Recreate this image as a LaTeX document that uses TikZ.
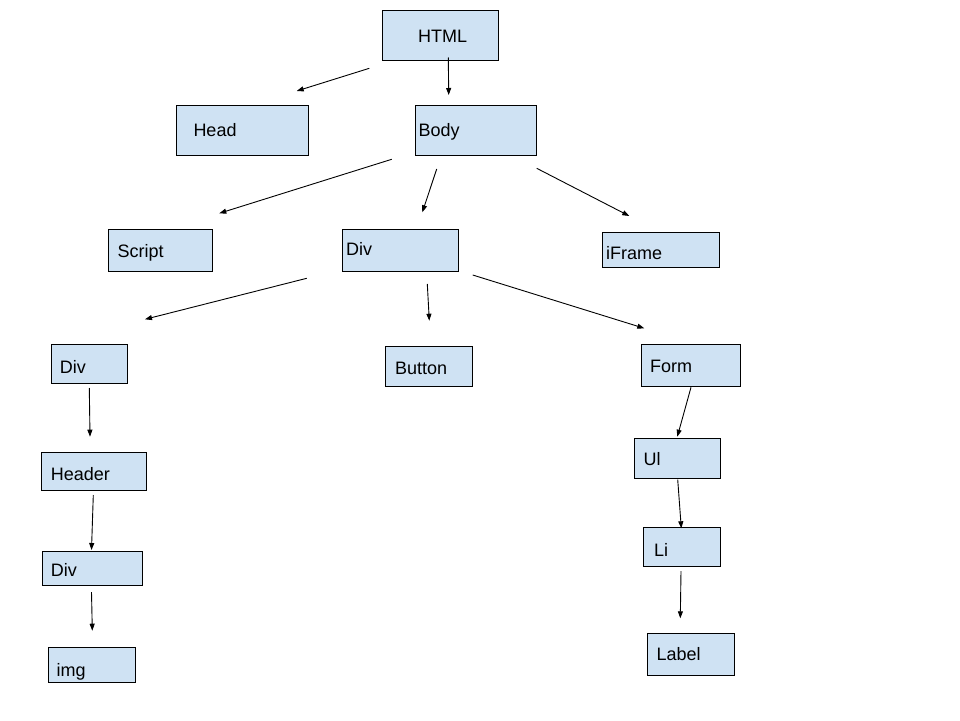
\documentclass[tikz,border=0pt]{standalone}
\usepackage{fontspec}
\setmainfont{Liberation Sans}
\usetikzlibrary{arrows.meta}
\definecolor{boxblue}{HTML}{CFE2F3}
\tikzset{
  box/.style={draw=black, fill=boxblue, line width=1pt, anchor=north west,
    inner sep=0pt, outer sep=0pt},
  txt/.style={anchor=base west, inner sep=0pt, font=\fontsize{18}{22}\selectfont},
  arrow/.style={draw=black, line width=0.9pt, -{Triangle[length=7pt,width=5pt]}}
}
\begin{document}
\begin{tikzpicture}[x=1pt,y=-1pt]
\useasboundingbox[fill=white] (0,0) rectangle (960,720);

% element boxes
\node[box, minimum width=116pt,   minimum height=50pt]   (html)   at (382.5,10.5) {};
\node[box, minimum width=131.6pt, minimum height=50pt]   (head)   at (176.7,105) {};
\node[box, minimum width=121.7pt, minimum height=50pt]   (body)   at (415,105) {};
\node[box, minimum width=104.4pt, minimum height=42.4pt] (script) at (108.3,229.3) {};
\node[box, minimum width=116pt,   minimum height=42.4pt] (divA)   at (342.3,229.3) {};
\node[box, minimum width=116.3pt, minimum height=35pt]   (iframe) at (602.7,232.3) {};
\node[box, minimum width=75.6pt,  minimum height=39.3pt] (divB)   at (51.7,344) {};
\node[box, minimum width=87.7pt,  minimum height=40pt]   (button) at (385,346) {};
\node[box, minimum width=99pt,    minimum height=41.7pt] (form)   at (641,344.3) {};
\node[box, minimum width=105pt,   minimum height=38pt]   (header) at (41.7,452.7) {};
\node[box, minimum width=100pt,   minimum height=33.3pt] (divC)   at (42.3,551.7) {};
\node[box, minimum width=87.4pt,  minimum height=35.4pt] (img)    at (48.3,647.3) {};
\node[box, minimum width=85.7pt,  minimum height=40pt]   (ul)     at (634.3,438.3) {};
\node[box, minimum width=77.4pt,  minimum height=38.7pt] (li)     at (643.3,527.3) {};
\node[box, minimum width=87pt,    minimum height=42pt]   (label)  at (647.3,633.3) {};

% element names
\node[txt] (htmlT)   at (418,42)      {HTML};
\node[txt] (headT)   at (193.3,136.7) {Head};
\node[txt] (bodyT)   at (418.3,136.7) {Body};
\node[txt] (scriptT) at (117.5,257.3) {Script};
\node[txt] (divAT)   at (346,255)     {Div};
\node[txt] (iframeT) at (606,259)     {iFrame};
\node[txt] (divBT)   at (59.7,373)    {Div};
\node[txt] (buttonT) at (395,374)     {Button};
\node[txt] (formT)   at (650,372.7)   {Form};
\node[txt] (headerT) at (50.7,480)    {Header};
\node[txt] (divCT)   at (50.7,576.7)  {Div};
\node[txt] (imgT)    at (56.5,676)    {img};
\node[txt] (ulT)     at (643.3,465)   {Ul};
\node[txt] (liT)     at (654,556.7)   {Li};
\node[txt] (labelT)  at (656.3,660.7) {Label};

% connector end points
\coordinate (htmlHeadS) at (369.3,68.3);  \coordinate (htmlHeadE) at (296.7,91);
\coordinate (htmlBodyS) at (448.3,57.5);  \coordinate (htmlBodyE) at (448.7,95);
\coordinate (bodyScrS)  at (391.7,159.3); \coordinate (bodyScrE)  at (219.3,213.3);
\coordinate (bodyDivS)  at (436.7,169);   \coordinate (bodyDivE)  at (422.3,212.3);
\coordinate (bodyIfrS)  at (536.7,168.3); \coordinate (bodyIfrE)  at (629.3,216);
\coordinate (divDivS)   at (306.7,278.3); \coordinate (divDivE)   at (145,319.3);
\coordinate (divBtnS)   at (427.3,284);   \coordinate (divBtnE)   at (429.3,320.7);
\coordinate (divFormS)  at (472.7,275);   \coordinate (divFormE)  at (644.3,328.3);
\coordinate (divHdrS)   at (89.3,388);    \coordinate (divHdrE)   at (90,436.7);
\coordinate (hdrDivS)   at (93.3,495);    \coordinate (hdrDivE)   at (91.5,550);
\coordinate (divImgS)   at (91.5,592);    \coordinate (divImgE)   at (92.3,630.7);
\coordinate (formUlS)   at (691,387.3);   \coordinate (formUlE)   at (677.3,436.7);
\coordinate (ulLiS)     at (677.7,479.5); \coordinate (ulLiE)     at (681.3,528.3);
\coordinate (liLblS)    at (681,571);     \coordinate (liLblE)    at (680.3,618.3);

% connectors
\draw[arrow] (htmlHeadS) -- (htmlHeadE);
\draw[arrow] (htmlBodyS) -- (htmlBodyE);
\draw[arrow] (bodyScrS)  -- (bodyScrE);
\draw[arrow] (bodyDivS)  -- (bodyDivE);
\draw[arrow] (bodyIfrS)  -- (bodyIfrE);
\draw[arrow] (divDivS)   -- (divDivE);
\draw[arrow] (divBtnS)   -- (divBtnE);
\draw[arrow] (divFormS)  -- (divFormE);
\draw[arrow] (divHdrS)   -- (divHdrE);
\draw[arrow] (hdrDivS)   -- (hdrDivE);
\draw[arrow] (divImgS)   -- (divImgE);
\draw[arrow] (formUlS)   -- (formUlE);
\draw[arrow] (ulLiS)     -- (ulLiE);
\draw[arrow] (liLblS)    -- (liLblE);
\end{tikzpicture}
\end{document}
